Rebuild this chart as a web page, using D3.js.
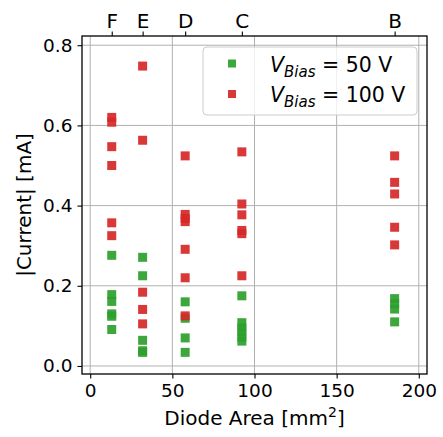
<!DOCTYPE html>
<html><head><meta charset="utf-8">
<script src="https://cdn.jsdelivr.net/npm/d3@7"></script>
<style>body{margin:0;background:#fff}svg{display:block;font-family:"DejaVu Sans",sans-serif}</style>
</head><body><svg id="c" width="443" height="437"></svg>
<script>
const diodes = ["F", "E", "D", "C", "B"];
const diodeArea = [13.1, 31.9, 57.8, 92.3, 185.3];
const current50 = [
  [0.276, 0.178, 0.161, 0.130, 0.124, 0.091],
  [0.271, 0.225, 0.064, 0.038, 0.034],
  [0.160, 0.119, 0.070, 0.034],
  [0.175, 0.108, 0.095, 0.085, 0.072, 0.062],
  [0.168, 0.155, 0.142, 0.110]
];
const current100 = [
  [0.620, 0.608, 0.547, 0.500, 0.357, 0.325],
  [0.748, 0.563, 0.184, 0.141, 0.105],
  [0.524, 0.378, 0.368, 0.360, 0.291, 0.220, 0.125],
  [0.534, 0.404, 0.377, 0.338, 0.330, 0.225],
  [0.524, 0.458, 0.429, 0.346, 0.302]
];
const xTicks = [0, 50, 100, 150, 200];
const yTicks = [0.0, 0.2, 0.4, 0.6, 0.8];
const seriesNames = ["50 V", "100 V"];
const colors = ["#2ca02c", "#d62728"];

const L = 82, R = 427, T = 36, B = 374;
const svg = d3.select("#c");
const x = d3.scaleLinear().domain([-5, 205]).range([L, R]);
const y = d3.scaleLinear().domain([-0.02, 0.823]).range([B, T]);

// grid
const g = svg.append("g");
g.selectAll(".gx").data(xTicks).join("line")
  .attr("x1", d => x(d)).attr("x2", d => x(d)).attr("y1", T).attr("y2", B)
  .attr("stroke", "#b0b0b0").attr("stroke-width", 1);
g.selectAll(".gy").data(yTicks).join("line")
  .attr("y1", d => y(d)).attr("y2", d => y(d)).attr("x1", L).attr("x2", R)
  .attr("stroke", "#b0b0b0").attr("stroke-width", 1);

// points
const size = 9;
[current50, current100].forEach((series, si) => {
  const pts = [];
  series.forEach((vals, i) => vals.forEach(v => pts.push([diodeArea[i], v])));
  svg.append("g").selectAll("rect").data(pts).join("rect")
    .attr("x", d => x(d[0]) - size / 2).attr("y", d => y(d[1]) - size / 2)
    .attr("width", size).attr("height", size)
    .attr("fill", colors[si]).attr("fill-opacity", 0.92);
});

// axes
const xAxis = svg.append("g").attr("transform", `translate(0,${B})`)
  .call(d3.axisBottom(x).tickValues(xTicks).tickFormat(d3.format("d")).tickSizeOuter(0).tickSize(4.5).tickPadding(5));
const yAxis = svg.append("g").attr("transform", `translate(${L},0)`)
  .call(d3.axisLeft(y).tickValues(yTicks).tickFormat(d3.format(".1f")).tickSizeOuter(0).tickSize(4.5).tickPadding(5));
const topAxis = svg.append("g").attr("transform", `translate(0,${T})`)
  .call(d3.axisTop(x).tickValues(diodeArea).tickFormat((d, i) => diodes[i]).tickSizeOuter(0).tickSize(4.5).tickPadding(4));
[xAxis, yAxis, topAxis].forEach(a => {
  a.select(".domain").remove();
  a.selectAll("line").attr("stroke", "#000").attr("stroke-width", 1.1);
  a.selectAll("text").attr("fill", "#000").attr("font-size", 18.5).attr("font-family", "DejaVu Sans");
});
topAxis.selectAll("text").attr("font-size", 20);
svg.append("rect").attr("x", L).attr("y", T).attr("width", R - L).attr("height", B - T)
  .attr("fill", "none").attr("stroke", "#000").attr("stroke-width", 1.3);

// labels
svg.append("text").attr("x", (L + R) / 2).attr("y", 425).attr("text-anchor", "middle")
  .attr("font-size", 20).html('Diode Area [mm<tspan dy="-8" font-size="14">2</tspan><tspan dy="8">]</tspan>');
svg.append("text").attr("transform", `translate(31,${(T + B) / 2}) rotate(-90)`).attr("text-anchor", "middle")
  .attr("font-size", 20).text("|Current| [mA]");

// legend
const lg = svg.append("g");
lg.append("rect").attr("x", 203).attr("y", 47).attr("width", 214).attr("height", 68).attr("rx", 4)
  .attr("fill", "#fff").attr("fill-opacity", 0.8).attr("stroke", "#cccccc").attr("stroke-width", 1);
seriesNames.forEach((n, i) => {
  const cy = 63.5 + i * 30.5;
  lg.append("rect").attr("x", 232 - 4).attr("y", cy - 4).attr("width", 8).attr("height", 8)
    .attr("fill", colors[i]).attr("fill-opacity", 0.92);
  lg.append("text").attr("x", 270).attr("y", cy + 8).attr("font-size", 20.5)
    .html(`<tspan font-style="italic">V</tspan><tspan font-style="italic" font-size="15" dy="5">Bias</tspan><tspan dy="-5"> = ${n}</tspan>`);
});
</script></body></html>
